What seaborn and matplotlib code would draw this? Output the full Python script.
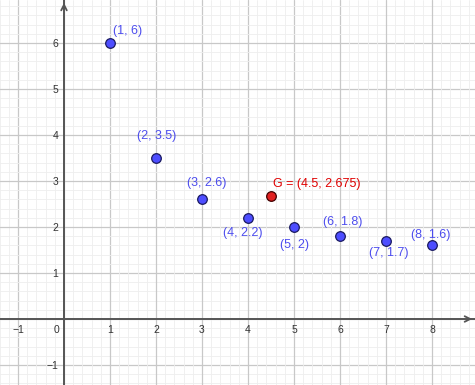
import matplotlib
matplotlib.use("Agg")
import matplotlib.pyplot as plt
import seaborn as sns
import pandas as pd
import numpy as np

# data
xs = [1, 2, 3, 4, 5, 6, 7, 8]
ys = [6, 3.5, 2.6, 2.2, 2, 1.8, 1.7, 1.6]
point_labels = ["(1, 6)", "(2, 3.5)", "(3, 2.6)", "(4, 2.2)", "(5, 2)", "(6, 1.8)", "(7, 1.7)", "(8, 1.6)"]
label_offsets = [(18, 12), (1, 22), (5, 16), (-5, -15), (0, -18), (3, 14), (3, -12), (-1, 10)]
g_x = [4.5]
g_y = [2.675]
g_label = "G = (4.5, 2.675)"
x_ticks = [-1, 1, 2, 3, 4, 5, 6, 7, 8]
y_ticks = [-1, 1, 2, 3, 4, 5, 6]

sns.set_style("white")
plt.rcParams['font.family'] = ['Liberation Sans', 'DejaVu Sans']

fig = plt.figure(figsize=(4.75, 3.85), dpi=100)
ax = fig.add_axes([0, 0, 1, 1])
ax.set_xlim(-64/46, (475-64)/46)
ax.set_ylim(-(385-319)/46, 319/46)

# grid
for v in np.arange(-2, 10.01, 0.2):
    major = abs(v - round(v)) < 1e-6
    ax.axvline(v, color='#c8c8c8' if major else '#eeeeee', lw=0.9 if major else 0.6, zorder=0)
    ax.axhline(v, color='#c8c8c8' if major else '#eeeeee', lw=0.9 if major else 0.6, zorder=0)

# axes
ax.axhline(0, color='#555555', lw=1.4, zorder=1)
ax.axvline(0, color='#555555', lw=1.4, zorder=1)
ax.annotate('', xy=(0, 319/46), xytext=(0, 319/46 - 0.2),
            arrowprops=dict(arrowstyle='->', color='#555555', lw=1.3))
ax.annotate('', xy=((475-64)/46, 0), xytext=((475-64)/46 - 0.2, 0),
            arrowprops=dict(arrowstyle='->', color='#555555', lw=1.3))

# tick labels
for t in x_ticks:
    ax.text(t, -0.13, f"{t}".replace('-', '\u2212'), ha='center', va='top',
            fontsize=7.5, color='#333333')
ax.text(-0.1, -0.13, "0", ha='right', va='top', fontsize=7.5, color='#333333')
for t in y_ticks:
    ax.text(-0.12, t - 0.02, f"{t}".replace('-', '\u2212'), ha='right', va='center',
            fontsize=7.5, color='#333333')

df = pd.DataFrame({"x": xs, "y": ys})
sns.scatterplot(data=df, x="x", y="y", ax=ax, s=48, color='#4d4dff',
                edgecolor='#1a1a60', linewidth=0.9, zorder=5)
sns.scatterplot(x=g_x, y=g_y, ax=ax, s=48, color='#e02020',
                edgecolor='#400000', linewidth=0.9, zorder=5)

for x, y, lab, (dx, dy) in zip(xs, ys, point_labels, label_offsets):
    ax.annotate(lab, (x, y), xytext=(dx, dy), textcoords='offset pixels',
                ha='center', va='center', fontsize=9, color='#4d4dee')
ax.annotate(g_label, (g_x[0], g_y[0]), xytext=(46, 12), textcoords='offset pixels',
            ha='center', va='center', fontsize=9, color='#e00000')

ax.set_xlabel("")
ax.set_ylabel("")
ax.set_xticks([])
ax.set_yticks([])
for s in ax.spines.values():
    s.set_visible(False)

fig.savefig("out.png", dpi=100)
